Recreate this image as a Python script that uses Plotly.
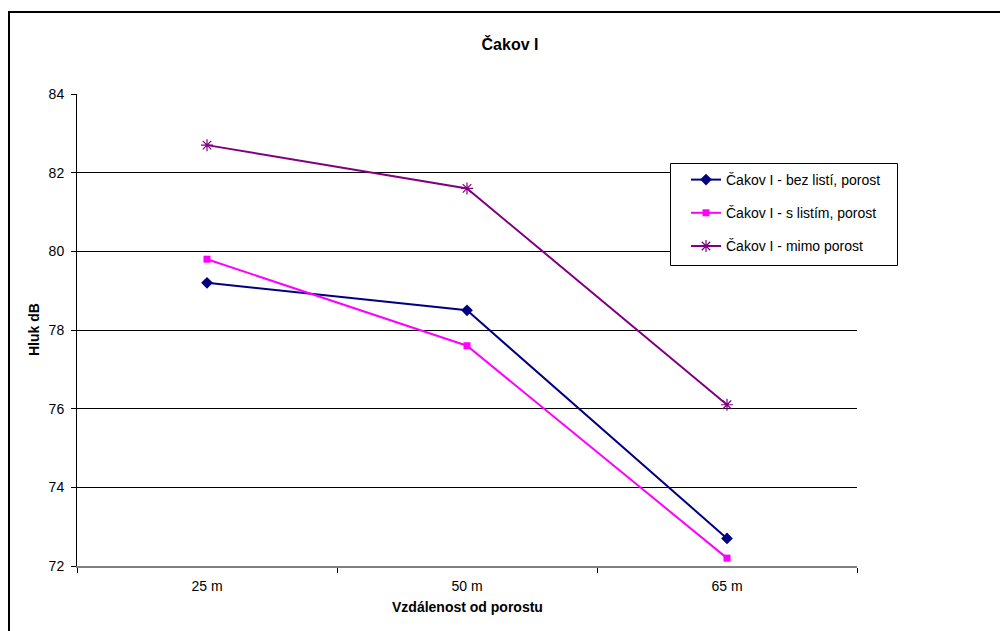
import plotly.graph_objects as go

# Measured noise levels (dB) at distances from the forest edge
categories = ["25 m", "50 m", "65 m"]
bez_listi = [79.2, 78.5, 72.7]
s_listim = [79.8, 77.6, 72.2]
mimo_porost = [82.7, 81.6, 76.1]

series_names = [
    "Čakov I - bez listí, porost",
    "Čakov I - s listím, porost",
    "Čakov I - mimo porost",
]
y_ticks = [72, 74, 76, 78, 80, 82, 84]

FONT = "Liberation Sans, Arial, sans-serif"

W, H = 1000, 631
L, R, T, B = 77, 143, 94, 65
pw = W - L - R
ph = H - T - B


def px_x(px):
    return (px - L) / pw


def px_y(py):
    return (H - B - py) / ph


fig = go.Figure()

fig.add_trace(go.Scatter(
    x=categories, y=bez_listi, name=series_names[0], mode="lines+markers",
    line=dict(color="#000080", width=2),
    marker=dict(symbol="diamond", size=9, color="#000080"),
    legendgroup="a",
))
fig.add_trace(go.Scatter(
    x=categories, y=s_listim, name=series_names[1], mode="lines+markers",
    line=dict(color="#FF00FF", width=2),
    marker=dict(symbol="square", size=7, color="#FF00FF"),
    legendgroup="b",
))
fig.add_trace(go.Scatter(
    x=categories, y=mimo_porost, name=series_names[2], mode="lines+markers",
    line=dict(color="#800080", width=2),
    marker=dict(symbol="asterisk-open", size=10,
                line=dict(color="#800080", width=1.2)),
    legendgroup="c",
))

fig.update_layout(
    width=W, height=H,
    margin=dict(l=L, r=R, t=T, b=B, pad=0),
    paper_bgcolor="white",
    plot_bgcolor="white",
    font=dict(family=FONT, size=14, color="black"),
    title=dict(
        text="<b>Čakov I</b>", font=dict(size=16, family=FONT, color="black"),
        x=px_x(510), xref="paper", xanchor="center",
        y=1 - 44 / H, yref="container", yanchor="middle",
    ),
    showlegend=True,
    legend=dict(
        x=px_x(686), y=px_y(164), xanchor="left", yanchor="top",
        xref="paper", yref="paper",
        borderwidth=0, bgcolor="rgba(0,0,0,0)",
        font=dict(size=14, family=FONT),
        tracegroupgap=12,
        itemwidth=30,
    ),
    xaxis=dict(
        type="category", range=[-0.5, 2.5],
        showline=True, linecolor="#808080", linewidth=1.5,
        ticks="outside", ticklen=5, tickcolor="black",
        tickson="boundaries", showgrid=False, zeroline=False,
        tickfont=dict(size=14, family=FONT),
        ticklabelstandoff=6,
    ),
    yaxis=dict(
        range=[72, 84], tickvals=y_ticks,
        showline=True, linecolor="black", linewidth=1,
        ticks="outside", ticklen=5, tickcolor="black",
        showgrid=True, gridcolor="black", gridwidth=1,
        zeroline=False,
        tickfont=dict(size=14, family=FONT),
        ticklabelstandoff=4,
    ),
    annotations=[
        dict(text="<b>Vzdálenost od porostu</b>", x=px_x(467), y=px_y(607),
             xref="paper", yref="paper", showarrow=False,
             xanchor="center", yanchor="middle",
             font=dict(size=14, family=FONT)),
        dict(text="<b>Hluk dB</b>", x=px_x(34), y=px_y(330),
             xref="paper", yref="paper", showarrow=False, textangle=-90,
             xanchor="center", yanchor="middle",
             font=dict(size=14, family=FONT)),
    ],
    shapes=[
        # outer chart frame
        dict(type="rect", xref="paper", yref="paper",
             x0=px_x(9), x1=px_x(1010), y0=px_y(12), y1=px_y(640),
             line=dict(color="black", width=2), layer="above"),
        # legend box (white fill hides gridlines behind the legend)
        dict(type="rect", xref="paper", yref="paper",
             x0=px_x(670.5), x1=px_x(897.5), y0=px_y(163.5), y1=px_y(265.5),
             line=dict(color="black", width=1), fillcolor="white",
             layer="above"),
    ],
)

fig.write_html("out.html")
